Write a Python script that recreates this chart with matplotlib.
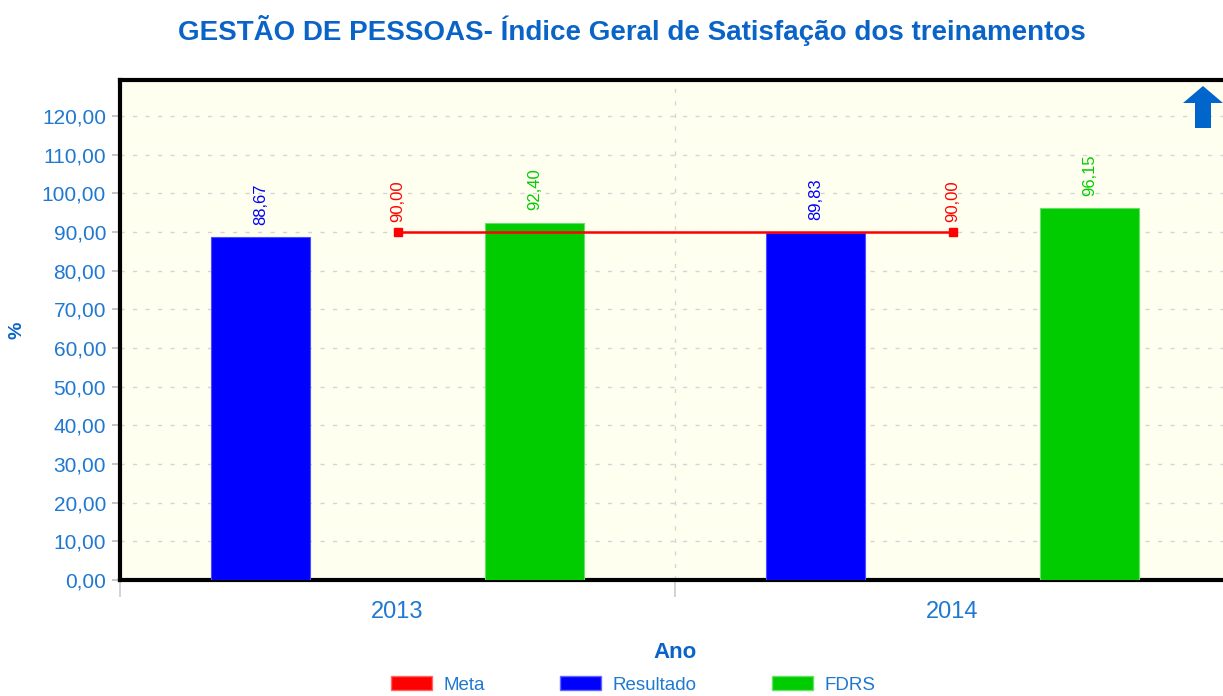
import matplotlib
matplotlib.use("Agg")
import matplotlib.pyplot as plt
from matplotlib.patches import Patch, Polygon
import numpy as np

plt.rcParams['font.family'] = ['Liberation Sans', 'DejaVu Sans']

years = ["2013", "2014"]
meta = [90.00, 90.00]
resultado = [88.67, 89.83]
fdrs = [92.40, 96.15]

title = "GESTÃO DE PESSOAS- Índice Geral de Satisfação dos treinamentos"
y_ticks = [0, 10, 20, 30, 40, 50, 60, 70, 80, 90, 100, 110, 120]

c_blue = "#0000FF"
c_green = "#00CC00"
c_red = "#FF0000"
c_text = "#1f78d1"
c_title = "#0a64c8"

def br(v):
    return f"{v:.2f}".replace(".", ",")

fig = plt.figure(figsize=(12.23, 6.96), dpi=100)
ax = fig.add_axes([120/1223, 1-580/696, 1110/1223, 500/696])
ax.set_facecolor("#FFFFF0")

x = np.arange(len(years))
off = 0.247
w = 0.178
ax.bar(x - off, resultado, width=w, color=c_blue, edgecolor="#4d4dff", linewidth=0.8, zorder=3)
ax.bar(x + off, fdrs, width=w, color=c_green, edgecolor="#66e066", linewidth=0.8, zorder=3)
ax.plot(x, meta, color=c_red, lw=1.8, marker="s", ms=6, zorder=4)

lbl_fs = 12
for xi, v in zip(x - off, resultado):
    ax.annotate(br(v), (xi, v), xytext=(0, 9), textcoords="offset points",
                rotation=90, ha="center", va="bottom", color=c_blue, fontsize=lbl_fs)
for xi, v in zip(x + off, fdrs):
    ax.annotate(br(v), (xi, v), xytext=(0, 9), textcoords="offset points",
                rotation=90, ha="center", va="bottom", color=c_green, fontsize=lbl_fs)
for xi, v in zip(x, meta):
    ax.annotate(br(v), (xi, v), xytext=(0, 7), textcoords="offset points",
                rotation=90, ha="center", va="bottom", color=c_red, fontsize=lbl_fs)

ax.set_xlim(-0.5, 1.5)
ax.set_ylim(0, 129.3)
ax.set_yticks(y_ticks)
ax.set_yticklabels([br(v) for v in y_ticks])
ax.set_xticks(x)
ax.set_xticklabels(years)
ax.set_xticks([-0.5, 0.5, 1.5], minor=True)
ax.tick_params(axis="y", colors="#bbbbbb", labelcolor=c_text, labelsize=15, length=6, width=1.2, pad=4)
ax.tick_params(axis="x", which="major", length=0, labelcolor=c_text, labelsize=17, pad=15)
ax.tick_params(axis="x", which="minor", length=12, color="#cccccc", width=1.2)

ax.grid(axis="y", color="#d4d4d4", linestyle=(0, (3, 6)), lw=1.0, zorder=0)
ax.grid(axis="x", which="minor", color="#d4d4d4", linestyle=(0, (3, 6)), lw=1.0, zorder=0)
ax.set_axisbelow(True)

for s in ["left", "top", "bottom"]:
    ax.spines[s].set_linewidth(3)
    ax.spines[s].set_color("black")
ax.spines["right"].set_visible(False)

ax.set_xlabel("Ano", color=c_title, fontsize=16, fontweight="bold", labelpad=14)
ax.set_ylabel("%", color=c_title, fontsize=14, fontweight="bold", labelpad=12)

fig.text(632/1223, 1-30/696, title, ha="center", va="center",
         fontsize=20, fontweight="bold", color=c_title)

# arrow icon
arrow = Polygon([(1183/1223, 1-103/696), (1203/1223, 1-86/696), (1223/1223, 1-103/696),
                 (1211/1223, 1-103/696), (1211/1223, 1-128/696), (1195/1223, 1-128/696),
                 (1195/1223, 1-103/696)], closed=True, transform=fig.transFigure,
                facecolor="#0066cc", edgecolor="none")
fig.patches.append(arrow)

handles = [Patch(facecolor=c_red, edgecolor="#ff6666", label="Meta"),
           Patch(facecolor=c_blue, edgecolor="#6666ff", label="Resultado"),
           Patch(facecolor=c_green, edgecolor="#66e066", label="FDRS")]
leg = fig.legend(handles=handles, loc="center", bbox_to_anchor=(633/1223, 1-685/696),
                 ncol=3, frameon=False, fontsize=13.5, handlelength=2.2, handleheight=0.75,
                 handletextpad=0.6, columnspacing=4.0, labelcolor=c_text)

fig.savefig("out.png", dpi=100)
